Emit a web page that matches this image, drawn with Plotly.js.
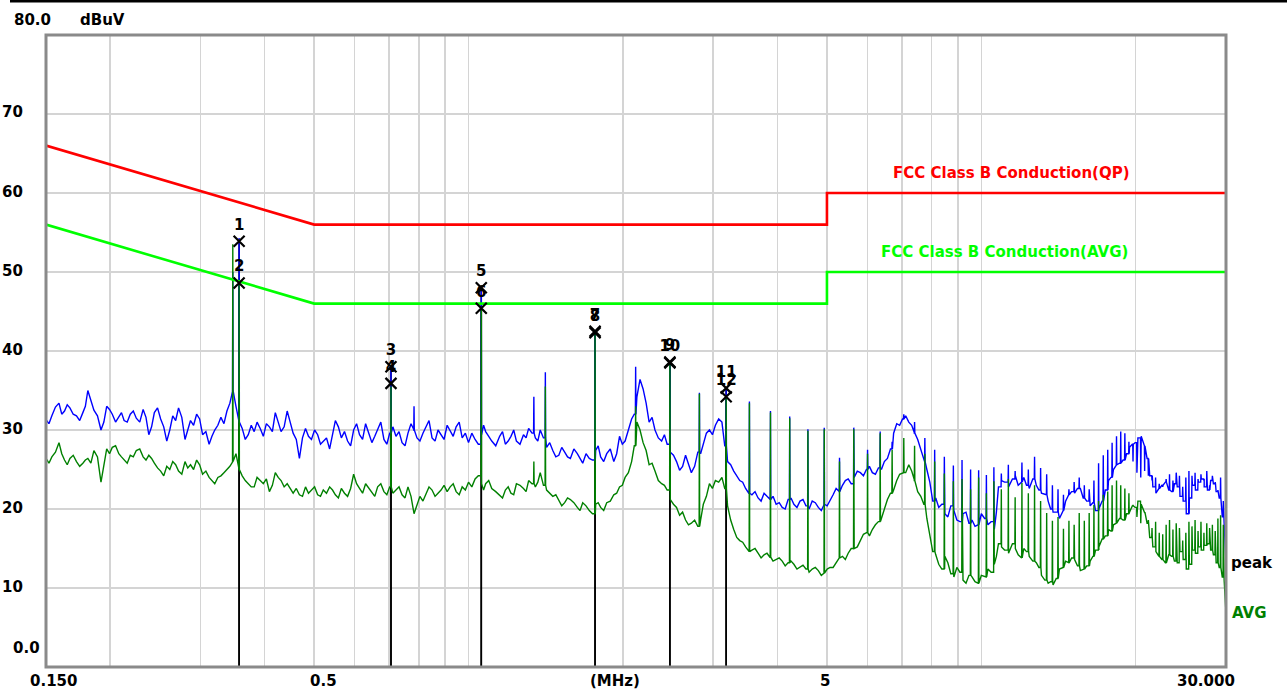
<!DOCTYPE html>
<html><head><meta charset="utf-8">
<script src="https://cdn.plot.ly/plotly-3.0.1.min.js"></script>
<style>body{margin:0;background:#fff}#chart{width:1287px;height:695px}</style>
</head><body><div id="chart"></div>
<script>
// Frequencies (MHz) of the sweep samples
const freq = [0.150,0.154,0.159,0.163,0.167,0.172,0.177,0.181,0.186,0.192,0.197,0.202,0.208,0.213,0.219,0.225,0.232,0.238,0.244,0.251,0.258,0.265,0.272,0.280,0.287,0.295,0.303,0.312,0.320,0.329,0.338,0.347,0.357,0.367,0.377,0.387,0.398,0.409,0.420,0.431,0.443,0.455,0.468,0.481,0.494,0.508,0.521,0.536,0.550,0.565,0.581,0.597,0.613,0.630,0.648,0.665,0.684,0.702,0.722,0.742,0.762,0.783,0.804,0.826,0.849,0.872,0.896,0.921,0.946,0.972,
1.00,1.03,1.06,1.08,1.11,1.15,1.18,1.21,1.24,1.28,1.31,1.35,1.38,1.42,1.46,1.50,1.54,1.58,1.63,1.67,1.72,1.77,1.81,1.86,1.92,1.97,2.02,2.08,2.13,2.19,2.25,2.31,2.38,2.44,2.51,2.58,2.65,2.72,2.80,2.87,2.95,3.03,3.12,3.20,3.29,3.38,3.47,3.57,3.67,3.77,3.87,3.98,4.09,4.20,4.31,4.43,4.55,4.68,4.81,4.94,5.07,5.21,5.36,5.50,5.65,5.81,5.97,6.13,6.30,6.47,6.65,6.84,7.02,7.22,7.41,7.62,7.83,8.04,8.26,8.49,8.72,8.96,9.21,9.46,9.72,
10.0,10.3,10.6,10.8,11.1,11.5,11.8,12.1,12.4,12.8,13.1,13.5,13.8,14.2,14.6,15.0,15.4,15.8,16.3,16.7,17.2,17.7,18.1,18.6,19.2,19.7,20.2,20.8,21.3,21.9,22.5,23.2,23.8,24.4,25.1,25.8,26.5,27.2,28.0,28.7,29.5,30.0];

// Peak detector trace (dBuV)
const peak = [31.3,31.8,33.4,32.4,32.8,31.8,32.2,35.0,32.5,30.0,
33.0,32.0,31.6,31.2,32.0,31.5,32.6,29.4,32.2,31.4,
28.6,31.8,32.8,28.8,31.2,32.0,29.4,28.2,30.0,31.6,
32.4,35.0,31.0,28.8,30.6,31.0,29.2,30.4,32.2,29.8,
32.4,29.6,26.4,30.2,28.8,29.4,28.6,27.6,31.2,29.0,
28.6,30.0,29.4,30.8,28.4,30.0,28.8,29.6,29.2,28.4,
29.6,30.0,28.6,30.4,29.0,30.0,28.8,29.8,30.4,29.0,
28.4,28.8,29.4,29.8,28.6,29.2,28.2,29.2,28.6,29.4,
30.2,29.0,30.0,27.8,27.4,26.8,27.2,26.4,27.0,25.8,
26.4,27.4,26.6,27.0,26.0,29.2,28.6,31.4,34.2,35.2,
31.0,30.0,28.6,28.2,26.8,24.9,26.8,24.6,27.2,28.4,
30.0,30.6,31.0,26.0,24.8,23.6,22.6,21.8,21.4,22.0,
21.2,20.6,20.2,21.2,20.6,21.0,20.4,21.0,20.2,20.6,
21.0,22.6,23.0,23.8,24.0,24.6,25.0,24.6,25.2,26.0,
27.6,30.8,31.4,31.0,29.6,27.4,25.0,21.0,20.2,19.4,
20.4,18.6,19.4,18.2,17.8,19.4,18.0,17.4,22.8,23.4,
23.8,23.0,24.0,22.6,23.0,22.0,21.0,19.6,18.8,21.0,
22.2,22.6,21.4,20.4,19.8,21.0,23.6,25.0,25.8,27.0,
28.2,29.0,28.0,24.2,22.0,23.0,22.4,23.2,21.6,19.4,
23.0,23.4,22.8,23.6,22.2,19.0,13.2];

// Average detector trace (dBuV)
const avg = [26.4,26.6,28.4,26.2,26.4,26.0,25.8,26.4,27.4,23.4,
27.6,27.8,27.0,26.2,26.8,27.4,26.6,26.8,25.8,24.8,
25.4,26.0,24.8,26.0,25.6,26.2,24.4,24.0,23.2,24.2,
25.0,26.0,25.0,23.6,22.8,24.0,23.2,22.2,24.6,23.6,
23.2,22.0,21.8,22.8,22.4,21.8,22.4,22.8,21.8,22.6,
21.6,24.4,22.6,23.2,22.0,22.8,22.2,22.8,22.4,21.8,
22.8,19.4,21.6,22.0,22.4,22.0,23.0,22.8,22.2,22.8,
23.4,23.8,23.2,23.2,22.6,21.8,22.4,22.0,23.2,22.6,
23.6,22.8,24.6,22.4,21.6,21.0,20.8,21.2,20.2,20.8,
19.8,20.6,20.2,20.8,21.8,22.8,24.0,26.0,31.0,28.4,
25.6,24.8,23.2,22.4,20.6,19.2,18.6,18.2,17.8,20.6,
23.2,23.6,24.0,20.4,17.4,16.0,15.2,14.8,14.4,14.2,
13.9,13.6,13.4,13.2,13.0,12.7,12.4,12.4,12.2,11.9,
12.6,13.2,14.0,14.4,15.0,16.0,17.0,17.4,18.4,20.0,
22.0,23.6,24.6,25.6,23.6,21.6,18.8,14.6,13.0,14.0,
11.8,12.6,11.0,11.6,10.8,11.6,12.4,13.0,15.6,14.8,
15.6,14.2,15.0,14.0,13.2,11.6,10.6,10.4,12.4,13.4,
13.8,12.8,12.4,13.4,14.8,16.2,17.4,18.0,18.8,19.4,
20.4,21.0,19.6,16.4,14.6,13.6,14.2,13.4,14.6,12.4,
14.8,15.2,15.4,14.8,13.2,11.4,6.8];

// In-between sweep samples (MHz) and their readings
const freqMid = [0.152,0.1565,0.161,0.165,0.1695,0.1745,0.179,0.1835,0.189,0.1945,0.1995,0.205,0.2105,0.216,0.222,0.2285,0.235,0.241,0.2475,0.2545,0.2615,0.2685,0.276,0.2835,0.291,0.299,0.3075,0.316,0.3245,0.3335,0.3425,0.352,0.362,0.372,0.382,0.3925,0.4035,0.4145,0.4255,0.437,0.449,0.4615,0.4745,0.4875,0.501,0.5145,0.5285,0.543,0.5575,0.573,0.589,0.605,0.6215,0.639,0.6565,0.6745,0.693,0.712,0.732,0.752,0.7725,0.7935,0.815,0.8375,0.8605,0.884,0.9085,0.9335,0.959,0.986,
1.015,1.045,1.07,1.095,1.13,1.165,1.195,1.225,1.26,1.295,1.33,1.365,1.40,1.44,1.48,1.52,1.56,1.605,1.65,1.695,1.745,1.79,1.835,1.89,1.945,1.995,2.05,2.105,2.16,2.22,2.28,2.345,2.41,2.475,2.545,2.615,2.685,2.76,2.835,2.91,2.99,3.075,3.16,3.245,3.335,3.425,3.52,3.62,3.72,3.82,3.925,4.035,4.145,4.255,4.37,4.49,4.615,4.745,4.875,5.005,5.14,5.285,5.43,5.575,5.73,5.89,6.05,6.215,6.385,6.56,6.745,6.93,7.12,7.315,7.515,7.725,7.935,8.15,8.375,8.605,8.84,9.085,9.335,9.59,9.86,
10.15,10.45,10.7,10.95,11.3,11.65,11.95,12.25,12.6,12.95,13.3,13.65,14.0,14.4,14.8,15.2,15.6,16.05,16.5,16.95,17.45,17.9,18.35,18.9,19.45,19.95,20.5,21.05,21.6,22.2,22.85,23.5,24.1,24.75,25.45,26.15,26.85,27.6,28.35,29.1,29.75];
const peakMid = [30.8,32.9,32.0,33.2,32.0,31.2,33.0,33.6,31.8,31.0,
32.6,31.0,32.2,31.0,32.4,31.0,31.6,30.4,32.8,30.4,
30.0,31.2,31.6,30.0,30.6,31.4,29.8,29.2,30.6,30.8,
33.4,33.0,30.2,29.4,29.8,30.2,30.8,29.8,31.0,30.4,
31.0,28.8,29.0,29.2,30.0,28.2,29.0,29.4,30.4,29.8,
28.0,30.8,28.8,29.6,29.2,31.0,28.2,30.4,29.8,28.0,
30.8,29.0,29.6,31.2,28.6,29.4,30.6,29.2,31.0,29.6,
29.6,28.2,30.6,29.2,28.0,29.8,28.6,30.0,28.2,29.0,
29.6,28.6,29.0,28.4,26.6,27.8,26.6,27.6,26.4,27.0,
26.2,28.0,26.0,27.6,27.0,28.2,30.0,32.0,36.4,33.4,
31.6,29.0,29.4,27.2,26.0,25.4,25.8,25.4,27.0,29.6,
29.4,31.4,28.0,25.6,24.2,23.4,22.0,22.2,21.0,21.6,
21.6,20.8,20.0,21.4,20.2,21.2,20.0,20.8,19.8,20.4,
21.8,22.2,23.6,23.2,24.8,24.2,25.4,24.4,25.0,26.4,
29.6,30.6,31.8,30.6,28.8,26.0,23.4,21.4,20.6,19.0,
19.8,18.4,19.6,18.6,18.0,18.8,18.4,19.6,23.6,22.8,
24.2,23.4,23.0,23.8,22.4,21.8,20.0,19.6,19.8,21.8,
22.0,22.6,21.0,20.8,20.0,22.4,24.0,25.6,26.2,27.8,
28.4,29.2,26.4,22.8,22.6,23.4,22.2,22.8,21.0,21.4,
22.4,23.8,22.4,23.2,21.4,18.2];
const avgMid = [25.8,27.2,27.0,25.6,26.8,25.4,26.2,25.8,26.6,25.8,
27.0,28.0,26.6,25.8,26.6,27.6,26.2,26.4,25.2,24.2,
25.0,25.6,24.4,25.2,25.0,25.6,24.8,23.6,24.0,24.6,
25.4,27.0,24.2,23.2,22.8,23.6,23.8,23.0,24.0,22.8,
22.6,22.6,21.6,22.0,22.8,21.6,22.0,22.4,21.4,22.0,
22.6,23.2,22.0,22.6,21.6,23.2,21.8,22.0,22.8,21.4,
21.6,20.6,21.0,22.8,21.6,22.4,22.2,23.2,21.8,22.4,
22.8,24.2,22.4,23.6,22.2,21.4,22.8,21.8,23.0,22.2,
23.2,23.4,23.0,22.0,21.8,20.4,21.4,20.8,19.8,20.4,
19.4,20.8,19.8,21.0,22.0,23.0,24.6,28.0,30.0,27.4,
25.8,23.6,23.0,21.2,20.2,19.6,18.0,18.6,18.6,21.6,
22.6,23.4,22.6,18.6,16.4,15.8,14.6,15.0,13.8,14.4,
13.4,13.8,12.8,13.4,12.4,12.9,12.0,12.6,11.6,12.4,
12.6,13.8,13.6,15.0,15.2,16.8,16.6,18.0,18.8,21.2,
22.4,24.4,24.6,24.8,22.2,20.6,16.4,14.2,12.4,13.2,
11.4,12.0,10.6,11.4,10.6,11.4,12.0,14.0,15.2,14.4,
15.0,13.8,14.6,13.4,12.6,11.0,10.8,11.2,12.6,13.2,
13.6,12.2,12.8,14.0,15.2,16.6,17.2,18.2,18.6,19.6,
20.2,20.6,18.2,15.2,14.0,13.2,14.0,13.2,13.6,13.0,
14.4,14.8,15.6,14.2,12.6,11.0];

// Narrow emission spikes (MHz) with their tops on each detector
const spikeFreq = [0.347,0.357,0.706,0.783,1.059,1.341,1.412,1.765,2.118,2.47,2.82,3.18,3.53,3.88,4.23,4.59,4.94,5.29,5.64,6.00,6.35,6.70,7.06,7.41,7.76,8.11,8.47,8.82,9.17,9.53,9.88,
10.23,10.58,10.94,11.29,11.64,12.00,12.35,12.70,13.05,13.41,13.76,14.11,14.46,14.82,15.17,15.52,15.88,16.23,16.58,16.93,17.29,17.64,17.99,18.35,18.70,19.05,19.40,19.76,
20.11,20.46,20.82,21.17,21.52,21.87,22.23,22.58,22.93,23.28,23.64,23.99,24.34,24.70,25.05,25.40,25.75,26.11,26.46,26.81,27.17,27.52,27.87,28.22,28.58,28.93,29.28,29.64];
const spikePeak = [50.0,54.3,37.8,33.0,47.8,34.2,37.3,42.6,38.0,38.6,34.7,35.3,33.6,32.4,31.7,30.1,30.3,26.5,30.3,27.5,29.8,28.5,32.0,31.0,29.0,27.5,26.6,25.5,26.2,25.0,24.9,
24.3,25.3,24.5,25.6,24.8,25.9,25.0,26.6,25.2,24.4,23.0,22.5,21.8,22.5,23.4,24.0,23.0,22.5,23.6,25.8,26.8,27.5,28.4,29.2,29.8,29.6,28.5,26.0,
24.6,24.0,24.8,24.2,23.6,24.0,23.2,22.8,23.8,24.4,23.6,24.6,24.2,22.8,24.0,24.8,24.2,24.6,23.8,24.4,23.6,24.8,23.0,24.2,23.4,22.4,24.0,21.0];
const spikeAvg = [53.5,48.6,35.5,null,45.5,26.0,35.5,42.3,33.0,38.5,34.6,34.2,33.4,32.2,31.5,29.9,30.1,26.0,30.1,27.0,29.6,27.5,29.0,28.0,27.0,26.0,24.5,23.5,23.8,22.5,24.0,
22.0,23.5,22.5,23.8,21.5,23.3,22.0,23.0,21.0,19.5,18.5,19.0,17.5,18.5,18.0,19.5,18.5,19.5,20.5,21.0,21.8,22.2,23.0,23.6,23.0,22.6,22.0,20.5,
19.0,18.2,19.5,18.6,17.6,18.4,17.0,16.8,18.0,18.6,17.4,18.2,17.6,16.0,17.0,18.4,17.8,18.6,17.2,18.4,17.0,18.2,17.6,18.0,17.2,18.8,19.2,18.0];

// Limit lines
const qpFreq = [0.15,0.5,5,5,30];
const qpLimit = [66,56,56,60,60];
const avFreq = [0.15,0.5,5,5,30];
const avLimit = [56,46,46,50,50];

// Marked measurement points
const markerNo = ['1','2','3','4','5','6','7','8','9','10','11','12'];
const markerFreq = [0.357,0.357,0.706,0.706,1.059,1.059,1.765,1.765,2.47,2.47,3.18,3.18];
const markerLevel = [53.9,48.6,38.0,35.9,48.0,45.4,42.5,42.3,38.6,38.5,35.3,34.2];

// Axis labels
const yLabels = ['70','60','50','40','30','20','10'];
const yLabelVals = [70,60,50,40,30,20,10];
const gridFreq = [0.2,0.3,0.4,0.5,0.6,0.7,0.8,0.9,1,2,3,4,5,6,7,8,9,10,20];

function build(f1, v1, f2, v2, sf, sv){
  const pts = [];
  f1.forEach((f,i)=>pts.push([f, v1[i], 0]));
  f2.forEach((f,i)=>pts.push([f, v2[i], 0]));
  sf.forEach((f,j)=>{ if (sv[j] !== null) pts.push([f, sv[j], 1]); });
  pts.sort((a,b)=>a[0]-b[0] || a[2]-b[2]);
  const x=[], y=[]; let last = v1[0];
  pts.forEach(p=>{
    if (p[2]) { x.push(p[0]/1.0012, p[0], p[0]*1.0012); y.push(last, p[1], last); }
    else { x.push(p[0]); y.push(p[1]); last = p[1]; }
  });
  return {x, y};
}

const L=46, R=1226, T=35, B=667, W=1287, H=695;
const px = x => (x-L)/(R-L);
const py = y => (B-y)/(B-T);
const FONT = {family:'DejaVu Sans', size:15, color:'#000', weight:'bold'};

const pk = build(freq, peak, freqMid, peakMid, spikeFreq, spikePeak);
const av = build(freq, avg, freqMid, avgMid, spikeFreq, spikeAvg);

const mlx=[], mly=[];
markerFreq.forEach((f,i)=>{ mlx.push(f,f,null); mly.push(0, markerLevel[i], null); });

const traces = [
  {x:mlx, y:mly, mode:'lines', line:{color:'#000', width:1.6}, hoverinfo:'skip'},
  {x:pk.x, y:pk.y, mode:'lines', line:{color:'rgb(0,0,255)', width:1.4}, name:'peak'},
  {x:av.x, y:av.y, mode:'lines', line:{color:'rgb(0,128,0)', width:1.4}, name:'AVG'},
  {x:qpFreq, y:qpLimit, mode:'lines', line:{color:'rgb(255,0,0)', width:2.6}},
  {x:avFreq, y:avLimit, mode:'lines', line:{color:'rgb(0,255,0)', width:2.6}},
  {x:markerFreq, y:markerLevel, mode:'markers+text', text:markerNo, textposition:'top center',
   textfont:FONT, marker:{symbol:'x-thin-open', size:11, line:{color:'#000', width:2.2}, color:'#000'}}
];

const ann = [];
function A(text, x, y, color){ ann.push({text, xref:'paper', yref:'paper', x:px(x), y:py(y), xanchor:'center', yanchor:'middle', showarrow:false, font:Object.assign({}, FONT, color?{color}:{})}); }
A('80.0', 32, 20);
A('dBuV', 102, 20);
yLabels.forEach((t,i)=>A(t, 12.5, 667 - yLabelVals[i]*7.9 - 1.5));
A('0.0', 26.5, 648);
A('0.150', 53, 681);
A('0.5', 323.5, 681);
A('(MHz)', 615, 681);
A('5', 825, 681);
A('30.000', 1206, 681);
A('FCC Class B Conduction(QP)', 1011.5, 173, 'rgb(255,0,0)');
A('FCC Class B Conduction(AVG)', 1004, 252, 'rgb(0,255,0)');
A('peak', 1251.5, 563);
A('AVG', 1249, 613, 'rgb(0,128,0)');

const layout = {
  width:W, height:H, margin:{l:L, r:W-R, t:T, b:H-B}, showlegend:false,
  paper_bgcolor:'#fff', plot_bgcolor:'#fff',
  xaxis:{type:'log', range:[Math.log10(0.15), Math.log10(30)], tickvals:gridFreq, showticklabels:false, ticks:'',
    showgrid:true, gridcolor:'#d4d4d4', gridwidth:1.5, zeroline:false, showline:false, fixedrange:true},
  yaxis:{range:[0,80], tickvals:yLabelVals, showticklabels:false, ticks:'', showgrid:true, gridcolor:'#d4d4d4', gridwidth:1.5,
    zeroline:false, showline:false, fixedrange:true},
  shapes:[
    {type:'rect', xref:'paper', yref:'paper', x0:0, x1:1, y0:0, y1:1, line:{color:'#8a8a8a', width:3}, layer:'above'},
    {type:'line', xref:'paper', yref:'paper', x0:px(10), x1:px(1287), y0:py(1), y1:py(1), line:{color:'#000', width:3}}
  ],
  annotations:ann
};
Plotly.newPlot('chart', traces, layout, {staticPlot:true, displayModeBar:false});
</script>
</body></html>
